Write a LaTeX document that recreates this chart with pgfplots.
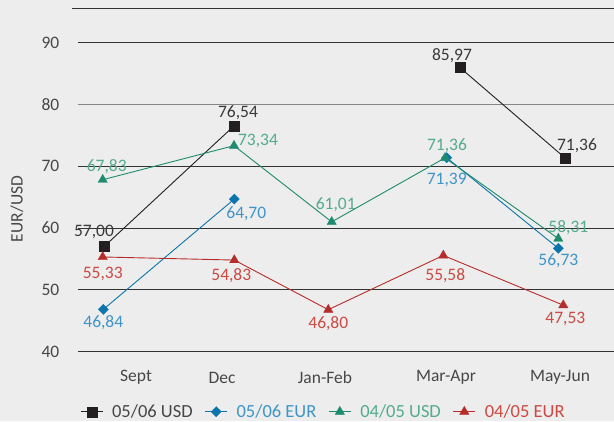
\documentclass[border=0pt]{standalone}
\usepackage{fontspec}
\setmainfont{Carlito}
\usepackage{pgfplots}
\usepackage{pgfplotstable}
\pgfplotsset{compat=1.18}
\definecolor{bg}{HTML}{ECEDEC}
\definecolor{gridc}{HTML}{333333}
\definecolor{gridl}{HTML}{858585}
\definecolor{txt}{HTML}{474747}
\definecolor{blk}{HTML}{231F20}
\definecolor{blkT}{HTML}{3A3A3A}
\definecolor{blu}{HTML}{0C74AC}
\definecolor{bluT}{HTML}{3F95C8}
\definecolor{grn}{HTML}{1E8B6E}
\definecolor{grnT}{HTML}{55AB8E}
\definecolor{red}{HTML}{B52D2A}
\definecolor{redT}{HTML}{CB4A43}
\newcommand{\lbl}{\fontsize{17.5}{19}\selectfont}
\newcommand{\lgd}{\fontsize{18.5}{20}\selectfont}

% x = horizontal position of each point, y = value
\pgfplotstableread{
x y lab dx dy
104 57.00 57,00 -10 15
234 76.54 76,54 4 13
331 nan x 0 0
460 85.97 85,97 -8 12
565 71.36 71,36 12 12
}\tUSDa
\pgfplotstableread{
x y lab dx dy
103.3 46.84 46,84 0 -13
234.3 64.70 64,70 12 -15
331 nan x 0 0
446.7 71.39 71,39 0 -22
558.3 56.73 56,73 0 -12
}\tEURa
\pgfplotstableread{
x y lab dx dy
102.7 67.83 67,83 4 13
234 73.34 73,34 24 5
331.7 61.01 61,01 4 17
445 71.36 71,36 2 12
558.3 58.31 58,31 10 11
}\tUSDb
\pgfplotstableread{
x y lab dx dy
102.7 55.33 55,33 0 -17
234.3 54.83 54,83 -3 -16
328.3 46.80 46,80 0 -14
443.3 55.58 55,58 2 -20
563.3 47.53 47,53 2 -14
}\tEURb

\pgfplotsset{
  lab/.style={line width=0.9pt, unbounded coords=jump,
    nodes near coords={\pgfplotspointmeta}, point meta=explicit symbolic,
    visualization depends on={\thisrow{dx} \as \dx},
    visualization depends on={\thisrow{dy} \as \dy},
    every node near coord/.append style={xshift=\dx pt, yshift=\dy pt, anchor=center, text=#1, font=\lbl}},
}

\begin{document}
\begin{tikzpicture}
\fill[bg, use as bounding box] (0,0) rectangle (614pt,421pt);
\begin{axis}[
  at={(77.5pt,69.3pt)}, anchor=south west,
  scale only axis, width=536.5pt, height=343.4pt,
  xmin=77.5, xmax=614, ymin=40, ymax=95.57,
  clip=false,
  axis line style={draw=none},
  tick style={draw=none},
  major tick length=0pt,
  ytick={40,50,60,70,90},
  extra y ticks={80},
  extra y tick style={major grid style={color=gridl, line width=1pt}},
  ymajorgrids,
  major grid style={color=gridc, line width=0.9pt},
  xtick={136,222,325,446,560},
  xticklabels={Sept,Dec,Jan-Feb,Mar-Apr,May-Jun},
  ticklabel style={font=\lbl, text=txt},
  /pgf/number format/assume math mode=true,
  yticklabel style={anchor=east, inner sep=0pt, xshift=-18pt},
  xticklabel style={anchor=center, inner sep=0pt, yshift=-26pt},
  ylabel={EUR/USD},
  ylabel style={at={(axis description cs:-0.1128,0.4156)}, anchor=center, font=\lbl, text=txt},
  legend columns=4,
  legend style={at={(axis description cs:0.0047,-0.1747)}, anchor=west, draw=none, fill=none, font=\lgd, inner sep=0pt,
    /tikz/every odd column/.append style={column sep=7pt},
    /tikz/every even column/.append style={column sep=10pt}},
  legend image code/.code={\draw[mark repeat=2,mark phase=2,#1] plot coordinates {(0pt,0pt) (11pt,0pt) (22pt,0pt)};},
]
\addplot[blk, mark=square*, mark size=5pt, mark options={solid, line width=0.3pt}, lab=blkT]
  table[x=x, y=y, meta=lab]{\tUSDa};
\addlegendentry{\textcolor{txt}{05/06 USD}}
\addplot[blu, mark=square*, mark size=3.6pt, mark options={solid, rotate=45, line width=0.3pt}, lab=bluT]
  table[x=x, y=y, meta=lab]{\tEURa};
\addlegendentry{\textcolor{bluT}{05/06 EUR}}
\addplot[grn, mark=triangle*, mark size=5.4pt, mark options={solid, line width=0.3pt}, lab=grnT]
  table[x=x, y=y, meta=lab]{\tUSDb};
\addlegendentry{\textcolor{grnT}{04/05 USD}}
\addplot[red, mark=triangle*, mark size=5.4pt, mark options={solid, line width=0.3pt}, lab=redT]
  table[x=x, y=y, meta=lab]{\tEURb};
\addlegendentry{\textcolor{redT}{04/05 EUR}}
\draw[gridc, line width=0.9pt] (axis cs:72.4,95.57) -- (axis cs:614,95.57);
\end{axis}
\end{tikzpicture}
\end{document}
